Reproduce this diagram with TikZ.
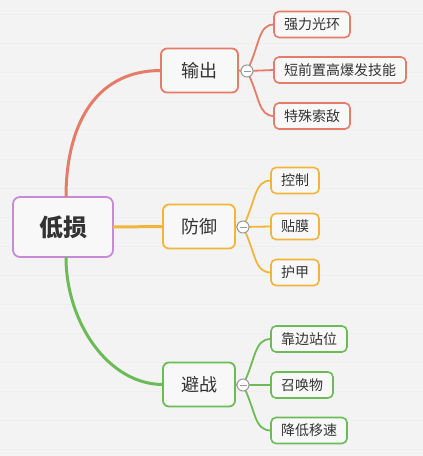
\documentclass[tikz,border=0pt]{standalone}
\usepackage{fontspec}
\newfontfamily\cjk{Noto Sans CJK SC}
\begin{document}
\begin{tikzpicture}[x=1pt,y=-1pt,
  every node/.style={inner sep=0pt,outer sep=0pt,font=\cjk,text=txt},
  rootbox/.style={draw=purp,line width=1.8pt,fill=boxfill,rounded corners=7pt,minimum width=100pt,minimum height=60pt,font=\cjk\fontsize{24}{24}\bfseries\selectfont},
  branchbox/.style={line width=1.8pt,fill=boxfill,rounded corners=6pt,minimum height=44pt,font=\cjk\fontsize{18}{18}\selectfont},
  leafbox/.style={line width=1.6pt,fill=boxfill,rounded corners=5pt,minimum height=26pt,font=\cjk\fontsize{14}{14}\selectfont},
  mainline/.style={line width=3pt},
  subline/.style={line width=1.8pt},
  knob/.style={circle,draw=gray!80,line width=1pt,fill=white,minimum size=12pt}
]
\definecolor{bg}{HTML}{F3F3F3}
\definecolor{stripe}{HTML}{EEEEEE}
\definecolor{boxfill}{HTML}{F8F8F8}
\definecolor{txt}{HTML}{333333}
\definecolor{redc}{HTML}{E57C6A}
\definecolor{orgc}{HTML}{F2B53C}
\definecolor{grnc}{HTML}{6CBB57}
\definecolor{purp}{HTML}{C68AD6}
\fill[bg] (0,0) rectangle (423,456);
\useasboundingbox (0,0) rectangle (423,456);
\foreach \yy in {14,43,72,101,130,159,188,217,246,275,304,333,362,391,420,449}
  \draw[stripe,line width=1pt] (0,\yy) -- (423,\yy);

% coordinates for connector ends and knobs
\coordinate (rt) at (66,197);
\coordinate (rb) at (66,257);
\coordinate (k1) at (247,71);
\coordinate (k2) at (243,227);
\coordinate (k3) at (243,385);

% root
\node[rootbox] (root) at (63,227) {低损};
% branches
\node[branchbox,draw=redc,minimum width=77pt] (b1) at (199.5,70.5) {输出};
\node[branchbox,draw=orgc,minimum width=72pt] (b2) at (199,226.5) {防御};
\node[branchbox,draw=grnc,minimum width=72pt] (b3) at (199,384.5) {避战};

% leaves
\node[leafbox,draw=redc,minimum width=76pt] (l11) at (312,24.5) {强力光环};
\node[leafbox,draw=redc,minimum width=132pt] (l12) at (340,70) {短前置高爆发技能};
\node[leafbox,draw=redc,minimum width=76pt] (l13) at (312,116) {特殊索敌};
\node[leafbox,draw=orgc,minimum width=48pt] (l21) at (295,180.5) {控制};
\node[leafbox,draw=orgc,minimum width=48pt] (l22) at (295,226.5) {贴膜};
\node[leafbox,draw=orgc,minimum width=48pt] (l23) at (295,272.5) {护甲};
\node[leafbox,draw=grnc,minimum width=76pt] (l31) at (309,339) {靠边站位};
\node[leafbox,draw=grnc,minimum width=62pt] (l32) at (302,385) {召唤物};
\node[leafbox,draw=grnc,minimum width=76pt] (l33) at (309,430.5) {降低移速};

% main connectors
\draw[redc,mainline] (rt) .. controls (66,130) and (92,70.5) .. (b1.west);
\draw[orgc,mainline] (root.east) -- (b2.west);
\draw[grnc,mainline] (rb) .. controls (66,322) and (108,384.5) .. (b3.west);

% sub connectors
\draw[redc,subline] (b1.east) -- (k1);
\draw[redc,subline] (k1) .. controls (260,45) and (258,24.5) .. (l11.west);
\draw[redc,subline] (k1) -- (l12.west);
\draw[redc,subline] (k1) .. controls (260,97) and (258,116) .. (l13.west);

\draw[orgc,subline] (b2.east) -- (k2);
\draw[orgc,subline] (k2) .. controls (256,201) and (254,180.5) .. (l21.west);
\draw[orgc,subline] (k2) -- (l22.west);
\draw[orgc,subline] (k2) .. controls (256,253) and (254,272.5) .. (l23.west);

\draw[grnc,subline] (b3.east) -- (k3);
\draw[grnc,subline] (k3) .. controls (256,359) and (254,339) .. (l31.west);
\draw[grnc,subline] (k3) -- (l32.west);
\draw[grnc,subline] (k3) .. controls (256,411) and (254,430.5) .. (l33.west);

% knobs
\foreach \k/\n in {k1/n1,k2/n2,k3/n3}{
  \node[knob] (\n) at (\k) {};
  \draw[gray!80,line width=1pt] ([xshift=-3.5pt]\n.center) -- ([xshift=3.5pt]\n.center);
}
\end{tikzpicture}
\end{document}
